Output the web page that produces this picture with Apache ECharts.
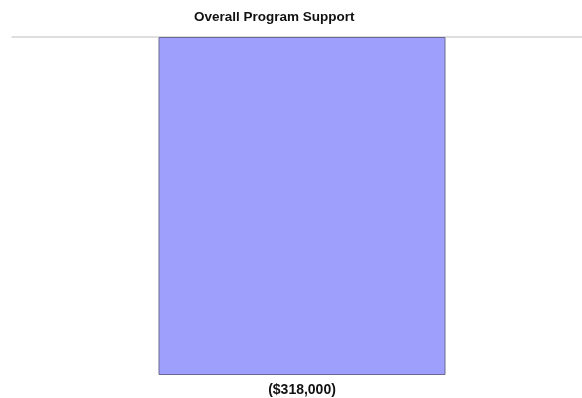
<!DOCTYPE html>
<html><head><meta charset="utf-8">
<script src="https://cdn.jsdelivr.net/npm/echarts@6/dist/echarts.min.js"></script>
<style>html,body{margin:0;padding:0;background:#fff}#c{width:582px;height:398px}</style>
</head><body><div id="c"></div>
<script>
const categories = ['Overall Program Support'];
const values = [-318000];
const labels = ['($318,000)'];

const chart = echarts.init(document.getElementById('c'));
chart.setOption({
  animation: false,
  title: {
    text: 'Overall Program Support', left: 189, top: 5,
    textStyle: { fontFamily: 'Liberation Sans', fontWeight: 'bold', fontSize: 13.5, color: '#111' }
  },
  grid: [
    { left: 12, right: 0, top: 37, bottom: 23 },
    { left: 22, right: 0, top: 37, bottom: 23 }
  ],
  xAxis: [{
    gridIndex: 0, type: 'category', data: categories,
    axisLine: { show: true, onZero: false, lineStyle: { color: '#d4d4d4', width: 1.5 } },
    axisTick: { show: false }, axisLabel: { show: false }, position: 'top'
  }, {
    gridIndex: 1, type: 'category', data: categories, show: false
  }],
  yAxis: [{
    gridIndex: 0, type: 'value', min: -318000, max: 0, show: false, splitLine: { show: false }
  }, {
    gridIndex: 1, type: 'value', min: -318000, max: 0, show: false, splitLine: { show: false }
  }],
  series: [{
    type: 'bar', xAxisIndex: 1, yAxisIndex: 1, data: values, barWidth: 287,
    itemStyle: { color: '#9e9efc', borderColor: '#6a6a90', borderWidth: 1 },
    label: {
      show: true, position: 'bottom', distance: 8,
      formatter: p => labels[p.dataIndex],
      fontFamily: 'Liberation Sans', fontWeight: 'bold', fontSize: 14, color: '#111'
    }
  }]
});
</script></body></html>
